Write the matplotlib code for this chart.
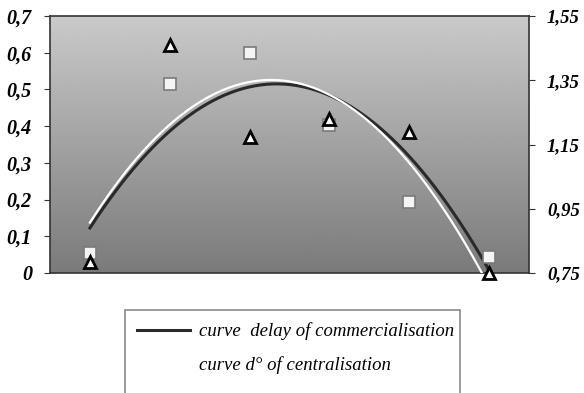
import matplotlib
matplotlib.use("Agg")
import matplotlib.pyplot as plt
import numpy as np
from matplotlib.ticker import FuncFormatter
from matplotlib.patches import Rectangle

# Values (left axis units), 6 categories
positions = np.arange(6)
delay_points = [0.03, 0.62, 0.37, 0.42, 0.385, 0.0]          # triangles
central_points = [0.055, 0.516, 0.598, 0.404, 0.194, 0.044]  # squares

left_ticks = [0, 0.1, 0.2, 0.3, 0.4, 0.5, 0.6, 0.7]
right_ticks = [0.75, 0.95, 1.15, 1.35, 1.55]

labels = ["curve  delay of commercialisation", "curve d\u00b0 of centralisation"]


def comma(v, pos=None):
    s = ("%.2f" % v).rstrip("0").rstrip(".")
    return s.replace(".", ",")


fig = plt.figure(figsize=(5.84, 3.93), dpi=100)
ax = fig.add_axes([50 / 584, 1 - 273 / 393, 479 / 584, 257 / 393])
ax.set_xlim(-0.5, 5.5)
ax.set_ylim(0, 0.7)

# grey gradient background, lighter at the top
grad = np.linspace(0.48, 0.79, 256).reshape(-1, 1)
ax.imshow(grad, cmap="gray", vmin=0, vmax=1, origin="lower", aspect="auto",
          extent=[0, 1, 0, 1], transform=ax.transAxes, zorder=0)

# quadratic trendlines, as in the original spreadsheet chart
xs = np.linspace(0, 5, 200)
fit_d = np.polyval(np.polyfit(positions, delay_points, 2), xs)
fit_c = np.polyval(np.polyfit(positions, central_points, 2), xs)
l1, = ax.plot(xs, fit_d, color="#2a2a2a", lw=2.2, zorder=2)
l2, = ax.plot(xs, fit_c, color="white", lw=1.6, zorder=3)

ax.plot(positions, central_points, ls="none", marker="s", ms=8,
        mfc="#f4f4f4", mec="#7a7a7a", mew=1.2, zorder=4, clip_on=False)
ax.plot(positions, delay_points, ls="none", marker="^", ms=9,
        mfc="white", mec="black", mew=2, zorder=5, clip_on=False)

for s in ax.spines.values():
    s.set_color("#333333")
    s.set_linewidth(1.2)

ax.set_xticks([])
ax.set_yticks(left_ticks)
ax.yaxis.set_major_formatter(FuncFormatter(comma))
ax.tick_params(axis="y", direction="out", length=4, pad=9, color="#333333")

ax2 = ax.twinx()
ax2.set_ylim(0.75, 1.55)
ax2.set_yticks(right_ticks)
ax2.yaxis.set_major_formatter(FuncFormatter(comma))
ax2.tick_params(axis="y", direction="out", length=4, pad=9, color="#333333")
for s in ax2.spines.values():
    s.set_visible(False)

for lab in ax.get_yticklabels() + ax2.get_yticklabels():
    lab.set_fontfamily("Liberation Serif")
    lab.set_fontstyle("italic")
    lab.set_fontweight("bold")
    lab.set_fontsize(14.5)
for lab in ax2.get_yticklabels():
    lab.set_fontsize(13.5)

# legend box runs past the bottom edge of the figure, as in the scan
fig.patches.append(Rectangle((125 / 584, -0.05), 335 / 584, 0.05 + (393 - 310) / 393,
                             transform=fig.transFigure, fill=False,
                             edgecolor="#8a8a8a", lw=1.2))
leg = fig.legend([l1, l2], labels, loc="upper left",
                 bbox_to_anchor=(125 / 584, 1 - 310 / 393),
                 prop=dict(family="Liberation Serif", style="italic", size=13.5),
                 frameon=False, handlelength=2.8,
                 handletextpad=0.5, labelspacing=0.85, borderpad=0.65,
                 borderaxespad=0)

fig.savefig("out.png", dpi=100)
